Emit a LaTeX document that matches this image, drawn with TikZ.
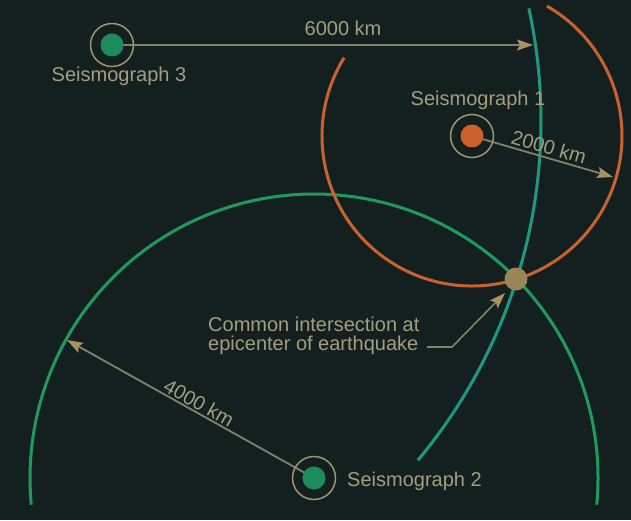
\documentclass[tikz,border=0pt]{standalone}
\usepackage{fontspec}
\setmainfont{Liberation Sans}
\usetikzlibrary{arrows.meta}
\definecolor{bg}{HTML}{142020}
\definecolor{orangearc}{HTML}{C8622E}
\definecolor{greenarc}{HTML}{1F9A5C}
\definecolor{tealarc}{HTML}{1C9A80}
\definecolor{dotgreen}{HTML}{1E8C5A}
\definecolor{dotorange}{HTML}{CC5F2A}
\definecolor{ringcol}{HTML}{9C9670}
\definecolor{epicol}{HTML}{9A8556}
\definecolor{arrline}{HTML}{80836C}
\definecolor{arrhead}{HTML}{A89262}
\definecolor{txt}{HTML}{A39F7D}
\tikzset{
  x=1pt,y=1pt,
  arc/.style={line width=3pt},
  ring/.style={circle,draw=ringcol,line width=1.5pt,minimum size=43pt,inner sep=0pt},
  dotnode/.style={circle,fill=#1,minimum size=23pt,inner sep=0pt},
  dist/.style={draw=arrline,line width=1.8pt,-{Stealth[length=16pt,width=11pt,inset=3pt,color=arrhead]}},
  lbl/.style={text=txt,font=\fontsize{20}{19}\selectfont,inner sep=0pt},
}
\begin{document}
\begin{tikzpicture}
\fill[bg] (0,0) rectangle (631,520);
\useasboundingbox (0,0) rectangle (631,520);
% centres
\coordinate (s3) at (112,475);
\coordinate (s1) at (472,384);
\coordinate (s2) at (314,42);
\coordinate (epi) at (516,241);
\coordinate (c3arc) at (12,399);
% arcs
\draw[arc,greenarc] (s2) ++(-5.4:284) arc[start angle=-5.4,end angle=185.4,radius=284];
\draw[arc,orangearc] (s1) ++(148.5:150) arc[start angle=148.5,end angle=420,radius=150];
\draw[arc,tealarc] (c3arc) ++(-39.9:529) arc[start angle=-39.9,end angle=12.3,radius=529];
% arrows
\coordinate (t6000) at (533,475);
\coordinate (t2000) at (613,343);
\coordinate (t4000) at (67,180);
\coordinate (pa) at (427,173);
\coordinate (pb) at (452,173);
\coordinate (ptip) at (505,227);
\draw[dist] (s3) -- (t6000);
\draw[dist] (s1) -- (t2000);
\draw[dist] (s2) -- (t4000);
\draw[dist,line width=1.6pt] (pa) -- (pb) -- (ptip);
% seismographs
\node[ring] (r3) at (s3) {};
\node[dotnode=dotgreen] (d3) at (s3) {};
\node[ring] (r1) at (s1) {};
\node[dotnode=dotorange] (d1) at (s1) {};
\node[ring] (r2) at (s2) {};
\node[dotnode=dotgreen] (d2) at (s2) {};
\node[dotnode=epicol] (depi) at (epi) {};
% labels
\node[lbl,anchor=base] (l6000) at (343,484) {6000 km};
\node[lbl,anchor=base] (ls3) at (119,438) {Seismograph 3};
\node[lbl,anchor=base] (ls1) at (478,414) {Seismograph 1};
\node[lbl,anchor=base west] (ls2) at (347,34) {Seismograph 2};
\node[lbl,rotate=-16.3] (l2000) at (549,373) {2000 km};
\node[lbl,rotate=-29.3] (l4000) at (199,117) {4000 km};
\node[lbl,anchor=west,align=left] (lepi) at (208,184) {Common intersection at\\epicenter of earthquake};
\end{tikzpicture}
\end{document}
